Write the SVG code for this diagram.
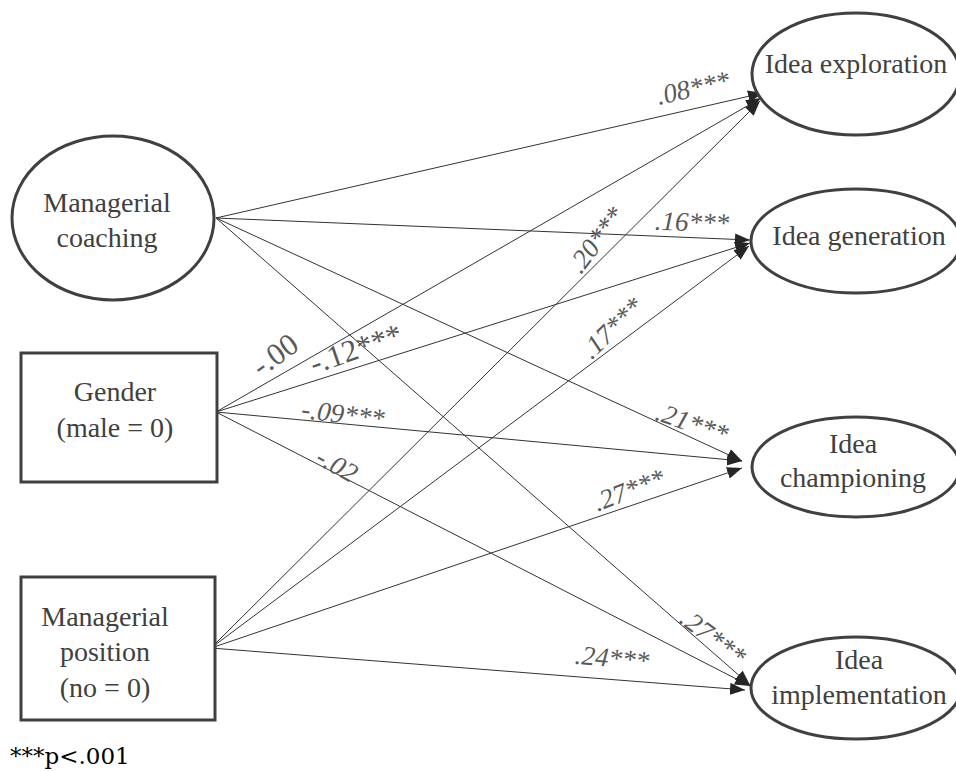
<svg xmlns="http://www.w3.org/2000/svg" width="956" height="771" viewBox="0 0 956 771">
<style>
.node{fill:#fff;stroke:#404040;stroke-width:3}
.nt{font-family:"Liberation Serif","Times New Roman",serif;font-size:28px;fill:#404040;text-anchor:middle}
.edge{stroke:#333;stroke-width:1;fill:none;marker-end:url(#arr)}
.lb{font-family:"Liberation Serif","Times New Roman",serif;font-size:27px;font-style:italic;fill:#595959;text-anchor:middle}
.lbu{font-family:"Liberation Serif","Times New Roman",serif;font-size:31px;fill:#595959;text-anchor:middle}
.note{font-family:"DejaVu Serif","Liberation Serif",serif;font-size:23px;fill:#000}
</style>
<defs>
<marker id="arr" markerUnits="userSpaceOnUse" markerWidth="16" markerHeight="12" refX="15" refY="6" orient="auto">
<path d="M0,0 L15,6 L0,12 z" fill="#262626"/>
</marker>
</defs>
<rect width="956" height="771" fill="#fff"/>
<g id="connectors">
<line class="edge" x1="216" y1="218" x2="763" y2="93"/>
<line class="edge" x1="216" y1="218" x2="750" y2="240"/>
<line class="edge" x1="216" y1="218" x2="742" y2="461"/>
<line class="edge" x1="216" y1="218" x2="750" y2="685"/>
<line class="edge" x1="216" y1="412" x2="761" y2="98"/>
<line class="edge" x1="216" y1="412" x2="750" y2="243"/>
<line class="edge" x1="216" y1="412" x2="742" y2="461"/>
<line class="edge" x1="216" y1="412" x2="750" y2="686"/>
<line class="edge" x1="211" y1="648" x2="760" y2="101"/>
<line class="edge" x1="211" y1="648" x2="749" y2="246"/>
<line class="edge" x1="211" y1="648" x2="742" y2="468"/>
<line class="edge" x1="211" y1="648" x2="745" y2="690"/>
</g>
<g id="labels">
<text class="lb" transform="translate(693,88) rotate(-13)" y="9">.08***</text>
<text class="lb" transform="translate(596,240) rotate(-53)" y="9">.20***</text>
<text class="lb" transform="translate(692,222) rotate(2)" y="9">.16***</text>
<text class="lb" transform="translate(612,328) rotate(-44)" y="9">.17***</text>
<text class="lbu" transform="translate(275,355) rotate(-36)" y="10">-.00</text>
<text class="lbu" transform="translate(356,349) rotate(-19)" y="10">-.12***</text>
<text class="lb" transform="translate(343,414) rotate(7)" y="9">-.09***</text>
<text class="lb" transform="translate(337,465) rotate(29)" y="9">-.02</text>
<text class="lb" transform="translate(692,423) rotate(19)" y="9">.21***</text>
<text class="lb" transform="translate(629,490) rotate(-21)" y="9">.27***</text>
<text class="lb" transform="translate(713,637) rotate(37)" y="9">.27***</text>
<text class="lb" transform="translate(612,658) rotate(5)" y="9">.24***</text>
</g>
<g id="managerial-coaching">
<ellipse class="node" cx="113" cy="218" rx="101" ry="82"/>
<text class="nt" x="107" y="212">Managerial</text>
<text class="nt" x="107" y="247">coaching</text>
</g>
<g id="gender">
<rect class="node" x="21" y="353" width="196" height="129"/>
<text class="nt" x="115" y="401">Gender</text>
<text class="nt" x="115" y="437">(male = 0)</text>
</g>
<g id="managerial-position">
<rect class="node" x="21" y="577" width="194" height="143"/>
<text class="nt" x="105" y="626">Managerial</text>
<text class="nt" x="105" y="661">position</text>
<text class="nt" x="105" y="697">(no = 0)</text>
</g>
<g id="idea-exploration">
<ellipse class="node" cx="856" cy="74" rx="104" ry="61"/>
<text class="nt" x="856" y="73">Idea exploration</text>
</g>
<g id="idea-generation">
<ellipse class="node" cx="856" cy="241" rx="105" ry="52"/>
<text class="nt" x="859" y="245">Idea generation</text>
</g>
<g id="idea-championing">
<ellipse class="node" cx="856" cy="467" rx="104" ry="50"/>
<text class="nt" x="853" y="453">Idea</text>
<text class="nt" x="853" y="487">championing</text>
</g>
<g id="idea-implementation">
<ellipse class="node" cx="856" cy="688" rx="105" ry="51"/>
<text class="nt" x="859" y="669">Idea</text>
<text class="nt" x="859" y="704">implementation</text>
</g>
<text class="note" x="10" y="764">***p&lt;.001</text>
</svg>
